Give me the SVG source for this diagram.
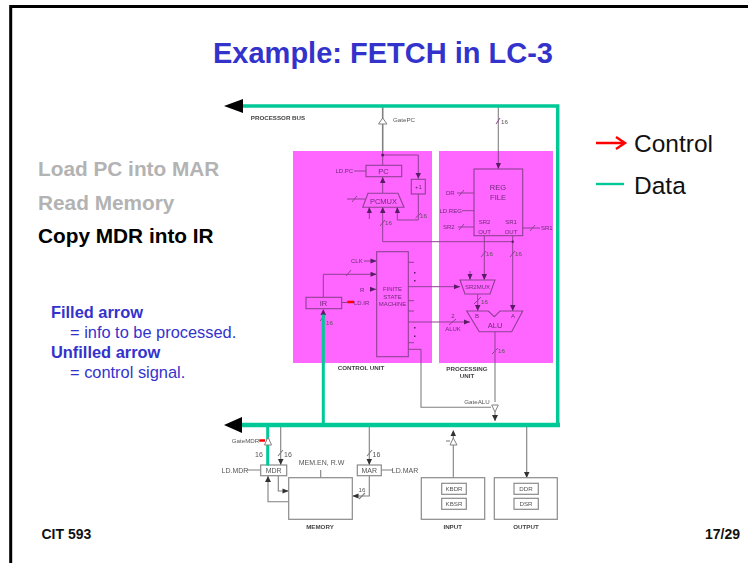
<svg xmlns="http://www.w3.org/2000/svg" width="748" height="563" viewBox="0 0 748 563">
<style>
text{font-family:"Liberation Sans",Arial,sans-serif}
.t{fill:#3333cc;font-weight:bold;font-size:29px;text-anchor:middle}
.m{font-weight:bold;font-size:20.800px}
.b{fill:#3333cc;font-size:16.400px}
.bb{fill:#3333cc;font-size:16.400px;font-weight:bold}
.leg{fill:#111;font-size:24.500px}
.ft{fill:#111;font-size:14px;font-weight:bold}
.g{fill:none;stroke:#808080;stroke-width:1.1}
.gt{fill:none;stroke:#808080;stroke-width:1.6}
.p{fill:none;stroke:#8f3f94;stroke-width:1}
.bx{fill:#fff;stroke:#8a8a8a;stroke-width:1.2}
.px{fill:none;stroke:#8f3f94;stroke-width:1.1}
.s{fill:#555;font-size:6.200px}
.sc{fill:#555;font-size:6.200px;text-anchor:middle}
.sl{fill:#555;font-size:7px;text-anchor:middle}
.sb{fill:#444;font-size:6.200px;font-weight:bold;text-anchor:middle}
.pt{fill:#6d2a78;font-size:6px}
.ptc{fill:#6d2a78;font-size:6px;text-anchor:middle}
.ptl{fill:#6d2a78;font-size:7.500px;text-anchor:middle}
.gs{fill:none;stroke:#00c896;stroke-linecap:square}
.tri{fill:#fff;stroke:#808080;stroke-width:1}
.ah{fill:#333}
.ahp{fill:#5a1f66}
</style>
<defs>
<filter id="soft" x="-5%" y="-5%" width="110%" height="110%"><feGaussianBlur stdDeviation="0.5"/></filter>
</defs>
<rect width="748" height="563" fill="#fff"/>
<g id="frame"><path d="M10.700 563V6.500H748" fill="none" stroke="#000" stroke-width="3"/></g>
<g id="slide-text">
<text class="t" x="383" y="63">Example: FETCH in LC-3</text>
<text class="m" x="38" y="176" fill="#b3b3b3">Load PC into MAR</text>
<text class="m" x="38" y="210" fill="#b3b3b3">Read Memory</text>
<text class="m" x="38" y="243" fill="#000">Copy MDR into IR</text>
<text class="bb" x="51" y="318">Filled arrow</text>
<text class="b" x="70" y="338">= info to be processed.</text>
<text class="bb" x="51" y="358">Unfilled arrow</text>
<text class="b" x="70" y="378">= control signal.</text>
<text class="ft" x="41.500" y="539">CIT 593</text>
<text class="ft" x="705" y="539">17/29</text>
</g>
<g id="legend">
<path d="M596 143H624M616 137L625 143L616 149" fill="none" stroke="#f00" stroke-width="2.400"/>
<text class="leg" x="634" y="152">Control</text>
<path d="M596 184H624" stroke="#00c896" stroke-width="2.400"/>
<text class="leg" x="634" y="194">Data</text>
</g>
<g filter="url(#soft)">
<g id="control-unit-panel"><rect x="293" y="151" width="139" height="212" fill="#ff66ff"/><text class="sb" x="361" y="370">CONTROL UNIT</text></g>
<g id="processing-unit-panel"><rect x="439" y="151" width="114" height="212" fill="#ff66ff"/><text class="sb" x="467" y="371">PROCESSING</text><text class="sb" x="467" y="378">UNIT</text></g>
<g id="connectors">
<path class="gt" d="M382.700 106V151"/>
<path class="p" d="M382.700 151V165M418.300 155H382.700M418.300 155V179M418.300 194V220H397.300V207M382.700 177V193M382.700 207V241.700H512.700M369.300 207V219"/>
<path class="g" d="M498.300 106V151"/>
<path class="p" d="M498.300 151V169M484.300 236V280M512.700 236V311M477.700 294V311M470 271V280"/>
<path class="p" d="M323.300 297V274.300H376.700M364 261H376.700M370 289.300H376.700M347 302.500H341.700M408.300 286.700H460M408.300 322H470M408.300 349.300H421V363"/>
<path class="p" d="M408.300 262.300H414M408.300 300.700H414M408.300 311H414M408.300 342.700H414"/>
<path class="p" d="M495 332V363"/>
<path class="g" d="M495 363V402M495 412V421M421 363V407.300H491"/>
<path class="g" d="M280.700 427V465M369.300 427V465M453.300 432V477.700M526.700 427V478"/>
<path class="g" d="M278.300 476V491H288.700M268 476V501.700H288.700M369.300 476V496H352.300M320.700 470V477.700M247 470H260.700M381.300 470H393"/>
<path class="p" d="M352 202L357 196M415.500 218L421 213M380 226L385 220M496 124L500 118M481 257L486 251M510 257L515 251M459 196L464 190M459 230L464 224M530 231L535 225M346 276L351 270M320 321L325 315M474 304L481 297M449 325L456 319M492 354L498 348"/>
<path class="p" d="M347 199H365M457 193H474M462 210.700H474M458 227H474M522.700 228H540"/>
<path class="g" d="M278 456L283 450M367 456L372 450M359 499L365 493"/>
<path class="ah" d="M280.700 465L278 459H283.500ZM369.300 465L366.500 459H372ZM526.700 478L524 472H529.500ZM453.300 430L450.500 436H456ZM495 421L492 415H498ZM268 476L265 482H271ZM288.700 491L282.500 488.500V493.500ZM352.300 496L358.500 493.500V498.500Z"/>
<path class="ahp" d="M382.700 177L380 183H385.500ZM418.300 178.500L415.500 173H421ZM397.300 207L394.800 213H400ZM382.700 207L380 213H385.500ZM369.300 207L366.800 213H372ZM376.700 261L370.500 258.500V263.500ZM376.700 274.300L370.500 271.800V276.800ZM376 289.300L370 286.800V291.800ZM323.300 309L320.500 315H326ZM460 286.700L454 284.200V289.200ZM470 322L464 319.500V324.500ZM470 280L467.500 274H472.500ZM484.300 280L481.500 274H487ZM477.700 311L475 305H480.500ZM512.700 311L510 305H515.500ZM498.300 169L495.800 163H501Z"/>
<circle cx="382.700" cy="155" r="1.500" class="ahp"/><circle cx="512.700" cy="241.700" r="1.200" class="ahp"/>
<path class="ahp" d="M414 272h1.500v1.500h-1.500zM414 280h1.500v1.500h-1.500zM414 327h1.500v1.500h-1.500zM414 335.500h1.500v1.500h-1.500z"/>
<path class="tri" d="M378.500 124H387L382.700 118Z"/>
<path class="tri" d="M491.700 405H498.300L495 412Z"/>
<path class="tri" d="M450 445H457L453.300 438Z"/>
<path class="g" d="M446 441H450"/>
<text class="s" x="393" y="121.500">GatePC</text>
<text class="s" x="501" y="123.500">16</text>
<text class="s" x="420" y="218">16</text>
<text class="s" x="385" y="225">16</text>
<text class="s" x="486" y="256">16</text>
<text class="s" x="515" y="256">16</text>
<text class="s" x="326" y="325">16</text>
<text class="s" x="481" y="304">16</text>
<text class="s" x="498" y="353">16</text>
<text class="sc" x="477" y="404">GateALU</text>
<text class="sc" x="245.500" y="443">GateMDR</text>
<text class="sl" x="259" y="457">16</text>
<text class="sl" x="288" y="457">16</text>
<text class="sl" x="376.500" y="457">16</text>
<text class="sc" x="362" y="492">16</text>
<text class="sl" x="321.500" y="465">MEM.EN, R.W</text>
<text class="sl" x="235" y="472.500">LD.MDR</text>
<text class="sl" x="405" y="472.500">LD.MAR</text>
</g>
<g id="pc"><rect class="px" x="366" y="165.300" width="35.700" height="11.400"/><text class="ptl" x="383.500" y="173.500">PC</text><text class="pt" x="335.500" y="173">LD.PC</text><path class="p" d="M354 171H366"/></g>
<g id="inc"><rect class="px" x="411.300" y="179.300" width="14" height="14.700"/><text class="ptc" x="418.300" y="189">+1</text></g>
<g id="pcmux"><path class="px" d="M368 193.300H398L404 207.300H362.700Z"/><text class="ptl" x="383.500" y="203.500">PCMUX</text></g>
<g id="reg-file"><rect class="px" x="474" y="169" width="48.700" height="66.700"/><text class="ptl" x="498" y="190">REG</text><text class="ptl" x="498" y="200">FILE</text><text class="ptc" x="484.500" y="224">SR2</text><text class="ptc" x="484.500" y="234">OUT</text><text class="ptc" x="511" y="224">SR1</text><text class="ptc" x="511" y="234">OUT</text><text class="pt" x="446" y="195">DR</text><text class="pt" x="439.500" y="212.700">LD.REG</text><text class="pt" x="443" y="229">SR2</text><text class="pt" x="541" y="230">SR1</text></g>
<g id="fsm"><rect class="px" x="376.700" y="251.700" width="31.600" height="105"/><text class="ptc" x="392.500" y="291">FINITE</text><text class="ptc" x="392.500" y="298.500">STATE</text><text class="ptc" x="392.500" y="306">MACHINE</text><text class="pt" x="351" y="263">CLK</text><text class="pt" x="360" y="291.500">R</text></g>
<g id="ir"><rect class="px" x="306" y="297.300" width="35.700" height="11.400"/><text class="ptl" x="323.500" y="305.500">IR</text><text class="pt" x="354" y="304.500">LD.IR</text></g>
<g id="sr2mux"><path class="px" d="M460 280H495L490 294H465Z"/><text class="ptc" x="477.500" y="289">SR2MUX</text></g>
<g id="alu"><path class="px" d="M466.700 311H488.300L494.300 316.700L500 311H522.700L511.700 331.700H479.300Z"/><text class="ptl" x="495" y="328">ALU</text><text class="pt" x="475" y="318">B</text><text class="pt" x="511" y="318">A</text><text class="ptc" x="453" y="331">ALUK</text><text class="ptc" x="453" y="318">2</text></g>
<g id="mdr"><rect class="bx" x="260.700" y="465" width="26" height="10.700"/><text class="sl" x="273.700" y="472.800">MDR</text></g>
<g id="mar"><rect class="bx" x="357.300" y="465" width="24" height="10.700"/><text class="sl" x="369.300" y="472.800">MAR</text></g>
<g id="memory"><rect class="bx" x="288.700" y="477.700" width="63.600" height="41.600"/><text class="sb" x="320" y="528.500">MEMORY</text></g>
<g id="input"><rect class="bx" x="421.300" y="477.700" width="63.400" height="41.600"/><rect class="bx" x="441.700" y="483.300" width="24.600" height="11"/><rect class="bx" x="441.700" y="498.300" width="24.600" height="11"/><text class="sc" x="454" y="491">KBDR</text><text class="sc" x="454" y="506">KBSR</text><text class="sb" x="452.700" y="528.500">INPUT</text></g>
<g id="output"><rect class="bx" x="494.300" y="477.700" width="63" height="41.600"/><rect class="bx" x="514" y="483.300" width="24.300" height="11"/><rect class="bx" x="514" y="498.300" width="24.300" height="11"/><text class="sc" x="526" y="491">DDR</text><text class="sc" x="526" y="506">DSR</text><text class="sb" x="526" y="528.500">OUTPUT</text></g>
<g id="bus-label"><text class="sb" x="278" y="120">PROCESSOR BUS</text></g>
<g id="highlights">
<path class="gs" stroke-width="3.500" d="M243 106H557M557.700 106V425"/>
<path class="gs" stroke-width="4.500" d="M242 425H557.700"/>
<path class="gs" stroke-width="3" d="M323.300 316V425M267.700 427V464"/>
<path d="M243 99V113L224 106Z" fill="#000"/><path d="M242 417V433L224 425Z" fill="#000"/>
<path class="tri" d="M264.500 445H271.500L268 437Z"/>
<path d="M347.300 302H354M259.300 440.500H265" stroke="#f00" stroke-width="2.400" fill="none"/>
</g>
</g>
</svg>
